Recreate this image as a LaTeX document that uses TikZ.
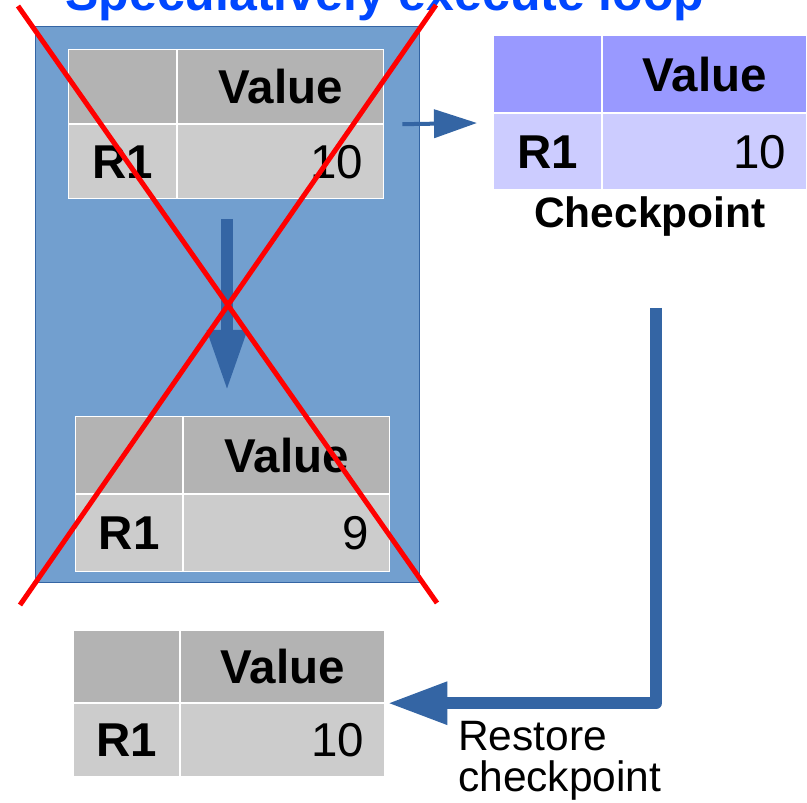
\documentclass[tikz,border=0pt]{standalone}
\usepackage{fontspec}
\setmainfont{Liberation Sans}
\usetikzlibrary{arrows.meta}

\definecolor{boxfill}{HTML}{729FCF}
\definecolor{boxedge}{HTML}{3465A4}
\definecolor{flowblue}{HTML}{3465A4}
\definecolor{headgray}{HTML}{B3B3B3}
\definecolor{rowgray}{HTML}{CCCCCC}
\definecolor{headlilac}{HTML}{9999FF}
\definecolor{rowlilac}{HTML}{CCCCFF}
\definecolor{titleblue}{HTML}{0047FF}

\newcommand\tabfont{\fontsize{47.5}{52}\selectfont}
\newcommand\labfont{\fontsize{42.5}{41}\selectfont}

% register table: name, top-left, col widths, row heights, fills, value
\newcommand\regtable[9]{%
  \node[cell, fill=#7, minimum width=#3, minimum height=#5] (#1-corner) at #2 {};
  \node[cell, fill=#7, minimum width=#4, minimum height=#5, font=\tabfont\bfseries]
    (#1-head) at (#1-corner.north east) {Value};
  \node[cell, fill=#8, minimum width=#3, minimum height=#6, font=\tabfont\bfseries]
    (#1-reg) at (#1-corner.south west) {R1};
  \node[cell, fill=#8, minimum width=#4, minimum height=#6]
    (#1-val) at (#1-reg.north east) {};
  \node[anchor=east, inner sep=0pt, font=\tabfont] (#1-num)
    at ([xshift=-21pt]#1-val.east) {#9};
}

\begin{document}
\begin{tikzpicture}[x=1pt, y=1pt,
  cell/.style={rectangle, draw=white, line width=1.2pt, inner sep=0pt, anchor=north west},
  cross/.style={red, line width=5pt},
  flow/.style={flowblue},
]
\useasboundingbox (0,0) rectangle (807,803);

% title
\node[anchor=base, inner sep=0pt, text=titleblue, font=\fontsize{50}{55}\selectfont\bfseries]
  (title) at (385,792) {Speculatively execute loop};

% speculation region
\node[rectangle, fill=boxfill, draw=boxedge, line width=1pt, anchor=south west,
  minimum width=384pt, minimum height=556pt, inner sep=0pt] (region) at (35,220) {};

\regtable{spec}{(68,754)}{108pt}{206pt}{74pt}{74pt}{headgray}{rowgray}{10}
\regtable{next}{(75,387)}{107pt}{206pt}{77pt}{77pt}{headgray}{rowgray}{9}
\regtable{ckpt}{(493,768)}{108pt}{204pt}{77pt}{76pt}{headlilac}{rowlilac}{10}
\regtable{rest}{(73,173)}{106pt}{204pt}{72pt}{73pt}{headgray}{rowgray}{10}

\node[anchor=base, inner sep=0pt, font=\labfont\bfseries] (ckptlabel) at (650,575) {Checkpoint};
\node[anchor=north west, inner sep=0pt, align=left, font=\labfont] (restlabel)
  at (458,81.5) {Restore\\checkpoint};

% save to checkpoint
\coordinate (ckptin) at (477,680);
\draw[flow, line width=4pt, -{Triangle[length=43pt, width=28pt]}]
  ([xshift=18pt]spec-head.south east) -- (ckptin);

% loop body step
\coordinate (stepfrom) at (227,584);
\coordinate (stepto) at (227,412);
\draw[flow, line width=12pt, -{Triangle[length=61pt, width=37pt]}] (stepfrom) -- (stepto);

% restore path
\coordinate (restfrom) at (656,495);
\draw[flow, line width=12pt, line join=round, -{Triangle[length=60pt, width=40pt]}]
  (restfrom) |- ([xshift=2pt]rest-head.south east);

% discarded speculation
\coordinate (xa1) at (18,797);
\coordinate (xa2) at (437,200);
\coordinate (xb1) at (436,798);
\coordinate (xb2) at (20,198);
\draw[cross] (xa1) -- (xa2);
\draw[cross] (xb1) -- (xb2);
\end{tikzpicture}
\end{document}
